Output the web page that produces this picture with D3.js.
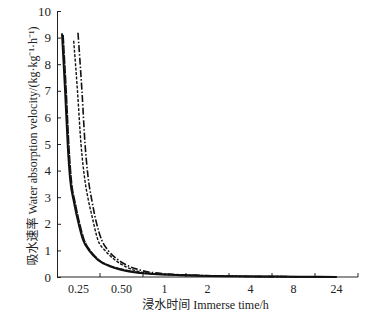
<!DOCTYPE html>
<html>
<head>
<meta charset="utf-8">
<script src="https://cdn.jsdelivr.net/npm/d3@7"></script>
<style>
  body { margin: 0; background: #fff; }
  text { font-family: "Liberation Serif", "Noto Sans CJK SC", serif; fill: #222; }
</style>
</head>
<body>
<div id="chart"></div>
<script>
// x categories (immersion time, h) and y ticks
const timeLabels = ["0.25", "0.50", "1", "2", "4", "8", "24"];
const timeValues = [0.25, 0.5, 1, 2, 4, 8, 24];
const yTicks = [0, 1, 2, 3, 4, 5, 6, 7, 8, 9, 10];

// curves: time (h) and water absorption velocity
const solidT = [0.154, 0.172, 0.189, 0.201, 0.224, 0.247, 0.276, 0.317, 0.363, 0.433, 0.491, 0.715, 1.36, 3.05, 4.9, 10.4, 24];
const solidV = [9.16, 7.0, 4.77, 3.7, 2.8, 2.1, 1.4, 0.95, 0.64, 0.4, 0.28, 0.15, 0.07, 0.03, 0.02, 0.01, 0];
const longT  = [0.161, 0.179, 0.196, 0.208, 0.231, 0.254, 0.283, 0.324, 0.37, 0.44, 0.498, 0.72, 1.38, 3.1, 4.9, 10.4, 24];
const longV  = [9.1, 7.0, 4.77, 3.7, 2.8, 2.1, 1.4, 0.95, 0.64, 0.41, 0.3, 0.16, 0.08, 0.03, 0.02, 0.01, 0];
const dashT  = [0.222, 0.244, 0.2645, 0.288, 0.307, 0.328, 0.363, 0.404, 0.462, 0.541, 0.68, 0.948, 1.83, 4, 10.4, 24];
const dashV  = [8.88, 7.0, 5.0, 3.6, 2.9, 2.3, 1.39, 1.0, 0.64, 0.4, 0.22, 0.1, 0.05, 0.02, 0.01, 0];
const dotT   = [0.247, 0.27, 0.288, 0.305, 0.327, 0.352, 0.385, 0.422, 0.481, 0.576, 0.715, 1.01, 1.83, 4, 10.4, 24];
const dotV   = [9.18, 7.0, 5.0, 3.8, 2.9, 2.1, 1.39, 1.0, 0.64, 0.42, 0.26, 0.12, 0.06, 0.02, 0.01, 0];

const width = 370,
      height = 314,
      margin = ({ top: 11, right: 12, bottom: 37, left: 57 });

let svg = d3.select("#chart")
    .append("svg")
    .attr("width", width)
    .attr("height", height);

let x = d3.scaleBand()
    .domain(timeLabels)
    .range([margin.left, width - margin.right]);

// piecewise time scale, each labelled time sits at its band centre
let xt = d3.scaleLinear()
    .domain(timeValues)
    .range(timeLabels.map(d => x(d) + x.bandwidth() / 2));

let y = d3.scaleLinear()
    .domain([0, 10])
    .range([height - margin.bottom, margin.top]);

// x axis: labels centred in bands, ticks on band edges
let xAxis = svg.append("g")
    .attr("transform", `translate(0,${height - margin.bottom})`)
    .call(d3.axisBottom(x).tickSize(0).tickPadding(7));
xAxis.select(".domain").attr("d", `M${margin.left},0H${width - margin.right}`).attr("stroke", "#222");
xAxis.selectAll("text").style("font-size", "12px");

svg.append("g")
    .selectAll("line")
    .data(timeLabels)
    .join("line")
    .attr("x1", d => x(d) + x.bandwidth())
    .attr("x2", d => x(d) + x.bandwidth())
    .attr("y1", height - margin.bottom)
    .attr("y2", height - margin.bottom - 4)
    .attr("stroke", "#222");

let yAxis = svg.append("g")
    .attr("transform", `translate(${margin.left},0)`)
    .call(d3.axisLeft(y).tickValues(yTicks).tickSize(-4).tickPadding(6).tickSizeOuter(0));
yAxis.select(".domain").attr("stroke", "#222");
yAxis.selectAll(".tick line").attr("stroke", "#222");
yAxis.selectAll("text").style("font-size", "13px");

// axis titles
svg.append("text")
    .attr("x", (margin.left + width - margin.right) / 2 - 2)
    .attr("y", 309)
    .attr("text-anchor", "middle")
    .style("font-size", "12px")
    .text("浸水时间 Immerse time/h");

svg.append("text")
    .attr("transform", `translate(37,${(margin.top + height - margin.bottom) / 2 + 2}) rotate(-90)`)
    .attr("text-anchor", "middle")
    .style("font-size", "12px")
    .text("吸水速率 Water absorption velocity/(kg·kg⁻¹·h⁻¹)");

let line = d3.line()
    .x(d => xt(d[0]))
    .y(d => y(d[1]))
    .curve(d3.curveMonotoneX);

const series = [
    { t: solidT, v: solidV, dash: null, w: 2 },
    { t: longT,  v: longV,  dash: "9,1", w: 1.4 },
    { t: dashT,  v: dashV,  dash: "3,1.5", w: 1.4 },
    { t: dotT,   v: dotV,   dash: "7,2,1.5,2", w: 1.6 }
];

svg.append("g")
    .selectAll("path")
    .data(series)
    .join("path")
    .attr("fill", "none")
    .attr("stroke", "#111")
    .attr("stroke-width", d => d.w)
    .attr("stroke-dasharray", d => d.dash)
    .attr("d", d => line(d.t.map((t, i) => [t, d.v[i]])));
</script>
</body>
</html>
